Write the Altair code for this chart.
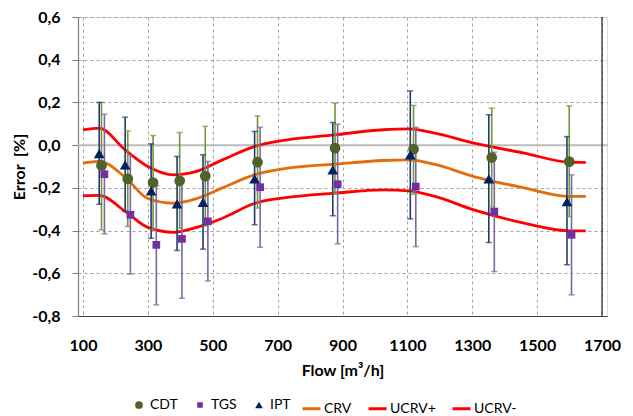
import altair as alt
import pandas as pd

# ---------------- data ----------------
series_pts = ["CDT", "TGS", "IPT"]

cdt_flow = [157, 238, 316, 398, 477, 638, 877, 1119, 1360, 1599]
cdt_val = [-0.095, -0.158, -0.175, -0.167, -0.145, -0.080, -0.014, -0.019, -0.058, -0.077]
cdt_hi = [0.200, 0.067, 0.045, 0.059, 0.088, 0.137, 0.197, 0.186, 0.173, 0.184]
cdt_lo = [-0.397, -0.381, -0.395, -0.389, -0.378, -0.295, -0.225, -0.230, -0.289, -0.335]

tgs_flow = [166, 246, 326, 405, 485, 646, 885, 1126, 1368, 1606]
tgs_val = [-0.136, -0.326, -0.467, -0.439, -0.357, -0.197, -0.183, -0.194, -0.311, -0.420]
tgs_hi = [0.145, -0.046, -0.190, -0.160, -0.076, 0.084, 0.098, 0.084, -0.033, -0.139]
tgs_lo = [-0.415, -0.604, -0.748, -0.717, -0.636, -0.478, -0.462, -0.475, -0.592, -0.701]

ipt_flow = [150, 230, 310, 390, 470, 629, 870, 1109, 1351, 1592]
ipt_val = [-0.040, -0.092, -0.214, -0.275, -0.268, -0.158, -0.116, -0.045, -0.158, -0.264]
ipt_hi = [0.200, 0.131, 0.006, -0.053, -0.045, 0.064, 0.106, 0.254, 0.142, 0.040]
ipt_lo = [-0.277, -0.310, -0.436, -0.493, -0.487, -0.373, -0.331, -0.345, -0.456, -0.560]

curve_flow = [100, 150, 230, 300, 380, 450, 530, 630, 730, 875, 1025, 1105, 1185, 1305, 1460, 1600, 1650]
crv = [-0.084, -0.076, -0.150, -0.250, -0.272, -0.250, -0.200, -0.138, -0.108, -0.089, -0.072, -0.069, -0.090, -0.147, -0.200, -0.240, -0.240]
ucrv_plus = [0.072, 0.080, -0.022, -0.100, -0.139, -0.123, -0.069, -0.006, 0.025, 0.048, 0.072, 0.076, 0.056, 0.009, -0.037, -0.080, -0.081]
ucrv_minus = [-0.237, -0.235, -0.310, -0.385, -0.408, -0.385, -0.342, -0.272, -0.245, -0.225, -0.209, -0.214, -0.240, -0.303, -0.365, -0.401, -0.401]

x_ticks = [100, 300, 500, 700, 900, 1100, 1300, 1500, 1700]
y_ticks = [-0.8, -0.6, -0.4, -0.2, 0.0, 0.2, 0.4, 0.6]

# ---------------- tables ----------------
rows = []
for name, fl, v, lo, hi in [("CDT", cdt_flow, cdt_val, cdt_lo, cdt_hi),
                            ("TGS", tgs_flow, tgs_val, tgs_lo, tgs_hi),
                            ("IPT", ipt_flow, ipt_val, ipt_lo, ipt_hi)]:
    for a, b, c, d in zip(fl, v, lo, hi):
        rows.append({"series": name, "bar": name + " err", "flow": a, "val": b, "lo": c, "hi": d})
pts = pd.DataFrame(rows)

crows = []
for name, vals in [("CRV", crv), ("UCRV+", ucrv_plus), ("UCRV-", ucrv_minus)]:
    for a, b in zip(curve_flow, vals):
        crows.append({"line": name, "flow": a, "val": b})
curves = pd.DataFrame(crows)

FONT = "Lato"
x_scale = alt.Scale(domain=[100, 1700], nice=False, zero=False)
y_scale = alt.Scale(domain=[-0.8, 0.6], nice=False, zero=False)

label_expr = "replace((datum.value < -0.0001 ? '-' : '') + format(abs(datum.value), '.1f'), '.', ',')"

x_axis = alt.Axis(values=x_ticks, title="Flow [m³/h]", format="d", grid=True,
                  gridDash=[3, 3], gridColor="#A0A0A0", ticks=False, labelPadding=21,
                  domain=True, domainColor="#404040", domainWidth=1.2,
                  labelFont=FONT, labelFontSize=16, labelFontWeight="bold", labelColor="#000000",
                  titleFont=FONT, titleFontSize=16, titleFontWeight="bold", titleColor="#000000",
                  titlePadding=9, labelFlush=False)
y_axis = alt.Axis(values=y_ticks, title="Error\u00a0 [%]", labelExpr=label_expr, grid=True,
                  gridDash=[3, 3], gridColor="#A0A0A0", ticks=True, tickSize=6, tickColor="#808080",
                  domain=True, domainColor="#808080", domainWidth=1.2, labelPadding=12,
                  labelFont=FONT, labelFontSize=16, labelFontWeight="bold", labelColor="#000000",
                  titleFont=FONT, titleFontSize=16, titleFontWeight="bold", titleColor="#000000",
                  titlePadding=4, labelFlush=False)

X = alt.X("flow:Q", scale=x_scale, axis=x_axis)
Y = alt.Y("val:Q", scale=y_scale, axis=y_axis)

zero = alt.Chart(pd.DataFrame({"val": [0.0]})).mark_rule(color="#BDBDBD", strokeWidth=2).encode(
    y=alt.Y("val:Q", scale=y_scale, axis=y_axis))
right_border = alt.Chart(pd.DataFrame({"flow": [1700]})).mark_rule(color="#202020", strokeWidth=1.2).encode(
    x=alt.X("flow:Q", scale=x_scale, axis=x_axis))

lines = alt.Chart(curves).mark_line(interpolate="monotone", strokeWidth=2.8).encode(
    x=X, y=Y,
    stroke=alt.Stroke("line:N",
                      scale=alt.Scale(domain=["CRV", "UCRV+", "UCRV-"],
                                      range=["#E46C0A", "#FF0000", "#FF0000"]),
                      legend=alt.Legend(title=None, orient="none", legendX=223, legendY=381,
                                        direction="horizontal",
                                        symbolType="stroke", symbolStrokeWidth=3, symbolSize=324,
                                        labelFont=FONT, labelFontSize=14, labelColor="#000000",
                                        labelOffset=2, columnPadding=10)),
)

bar_fill = alt.Fill("bar:N", scale=alt.Scale(domain=[s + " err" for s in series_pts],
                                             range=["#77933C", "#8064A2", "#1F3A6E"]),
                    legend=None)
bars = alt.Chart(pts).mark_bar(size=1.6).encode(
    x=X, y=alt.Y("lo:Q", scale=y_scale), y2="hi:Q", fill=bar_fill)
caps_lo = alt.Chart(pts).mark_tick(orient="horizontal", size=6, thickness=1.5).encode(
    x=X, y=alt.Y("lo:Q", scale=y_scale), fill=bar_fill)
caps_hi = alt.Chart(pts).mark_tick(orient="horizontal", size=6, thickness=1.5).encode(
    x=X, y=alt.Y("hi:Q", scale=y_scale), fill=bar_fill)

pt_legend = alt.Legend(title=None, orient="none", legendX=54, legendY=381, direction="horizontal",
                       symbolSize=60, labelFont=FONT, labelFontSize=14, labelOffset=4,
                       labelColor="#000000", columnPadding=15)
square_path = "M-0.72,-0.72H0.72V0.72H-0.72Z"
points = alt.Chart(pts).mark_point(filled=True, opacity=1, size=115).encode(
    x=X, y=Y,
    color=alt.Color("series:N", scale=alt.Scale(domain=series_pts,
                                                range=["#4F6228", "#7030A0", "#002060"]),
                    legend=pt_legend),
    shape=alt.Shape("series:N", scale=alt.Scale(domain=series_pts,
                                                range=["circle", square_path, "triangle-up"]),
                    legend=pt_legend),
)

chart = alt.layer(zero, right_border, lines, bars, caps_lo, caps_hi, points).properties(
    width=529, height=299, padding={"left": 3, "top": 1, "right": 0, "bottom": 0}
).configure_view(stroke=None).configure(background="#FFFFFF")

chart.save("out.html", embed_options={"renderer": "svg", "actions": False})
